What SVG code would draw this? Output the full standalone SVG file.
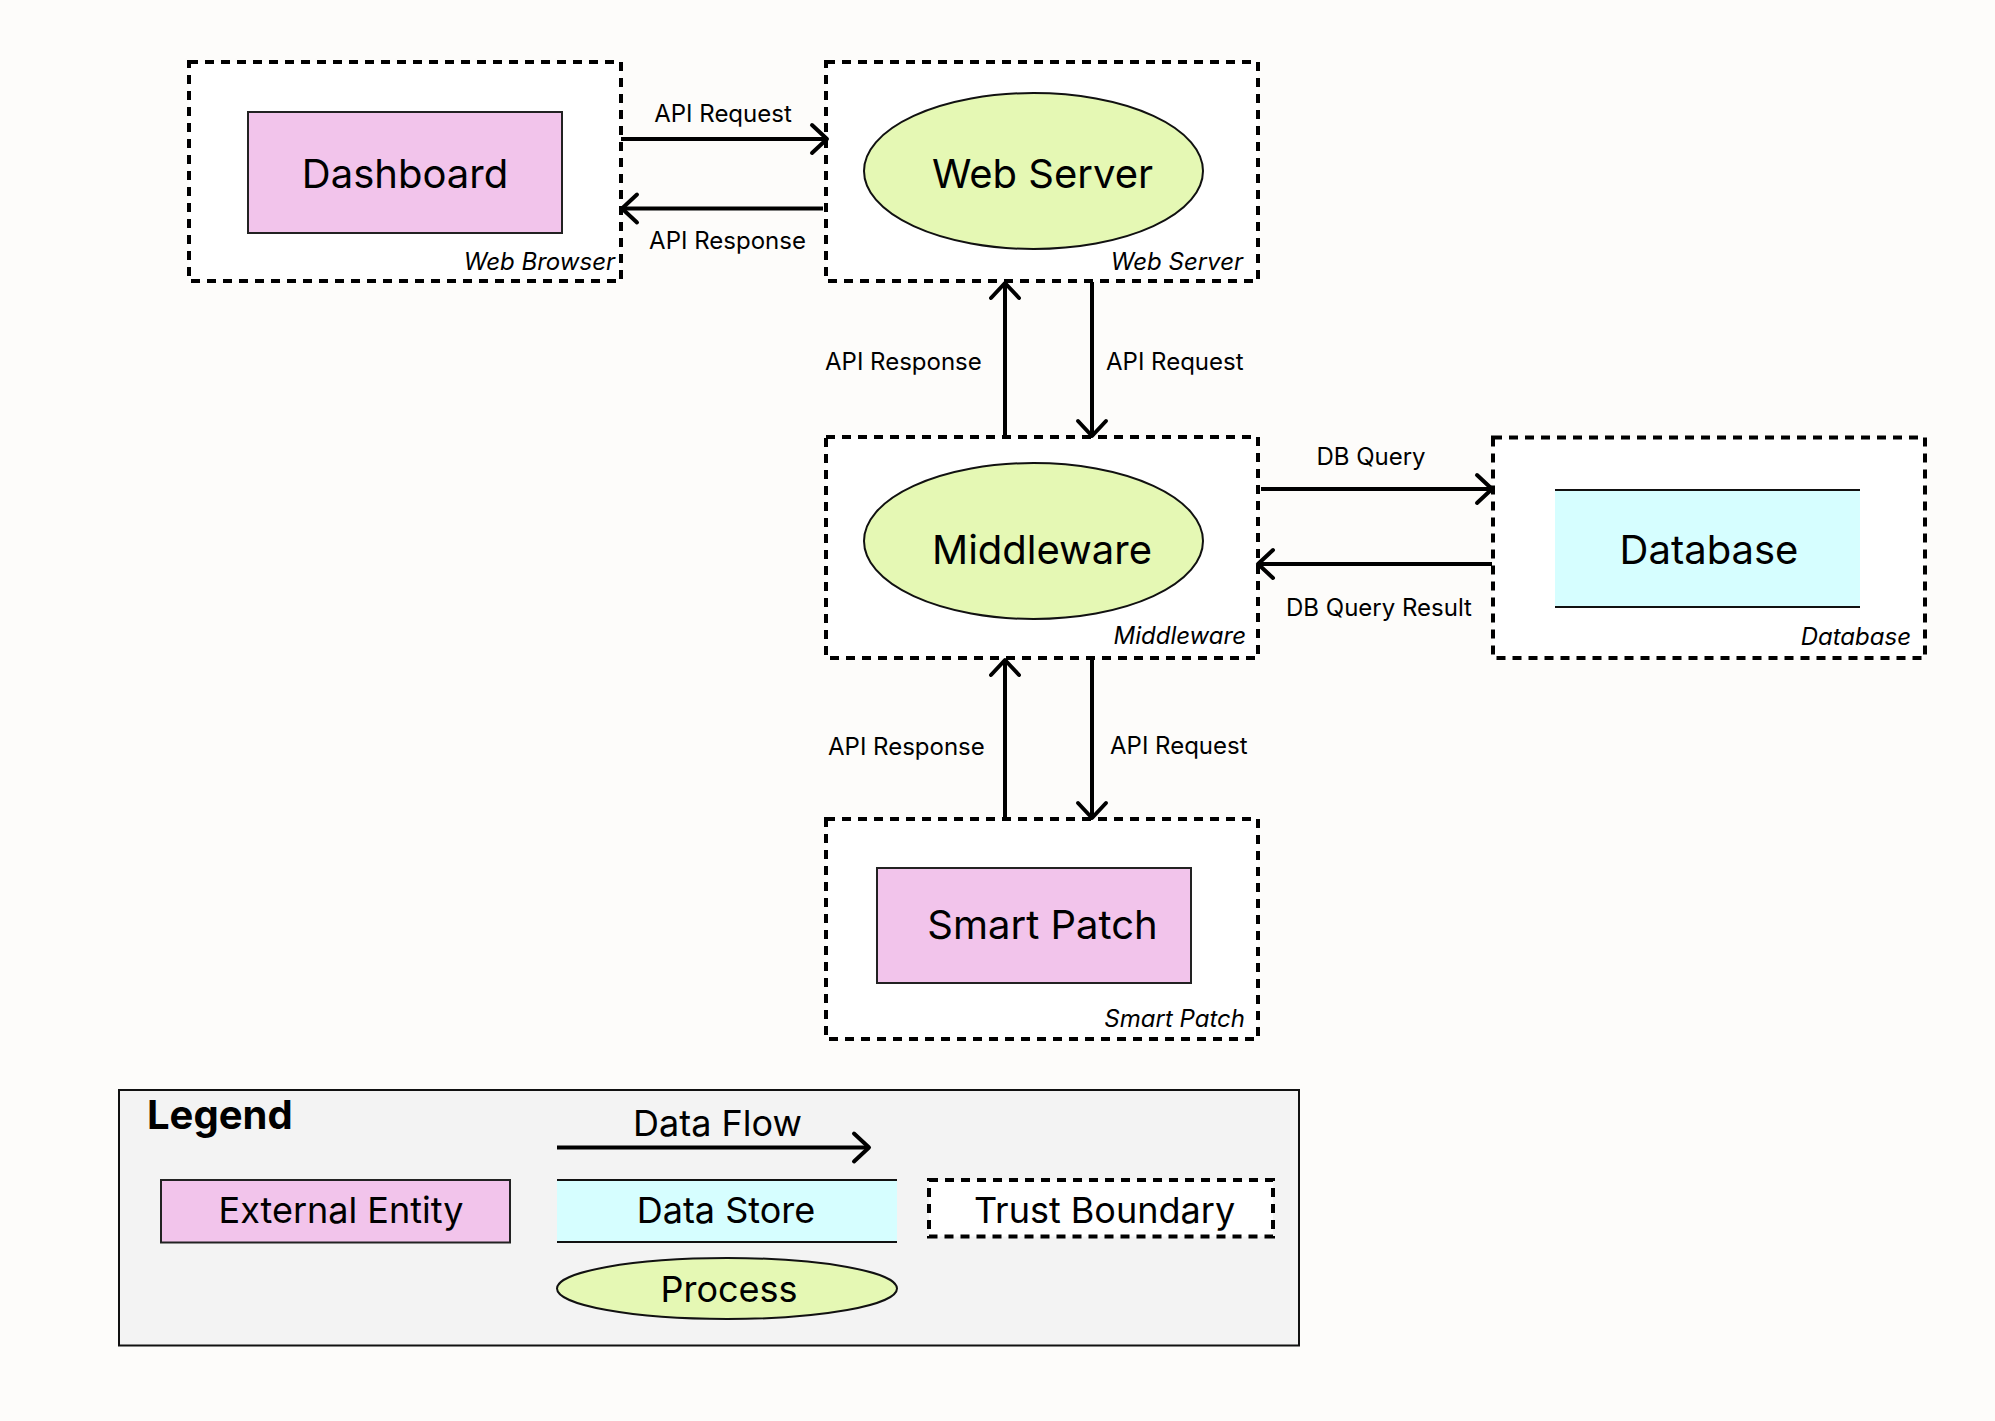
<svg xmlns="http://www.w3.org/2000/svg" width="1995" height="1421" viewBox="0 0 1995 1421">
  <defs>
    <style>
      text { font-family: Inter, "Liberation Sans", sans-serif; fill: #000; }
      .big { font-size: 40px; text-anchor: middle; }
      .leg { font-size: 36px; text-anchor: middle; }
      .lbl { font-size: 24px; }
      .mid { text-anchor: middle; }
      .bnd-lbl { font-size: 24px; font-style: italic; text-anchor: end; }
      .boundary { fill: #FFFFFF; stroke: #000; stroke-width: 4; stroke-dasharray: 9 7; }
      .entity { fill: #F2C4EB; stroke: #222; stroke-width: 2; }
      .process { fill: #E5F8B4; stroke: #111; stroke-width: 2; }
      .store { fill: #D6FEFF; stroke: none; }
      .storeline { stroke: #111; stroke-width: 2; fill: none; }
      .flow { fill: none; stroke: #000; stroke-width: 4; marker-end: url(#arr); }
    </style>
    <marker id="arr" viewBox="-20 -20 40 40" markerWidth="40" markerHeight="40" refX="0" refY="0" orient="auto" markerUnits="userSpaceOnUse">
      <path d="M-15,-14 L0,0 L-15,14" fill="none" stroke="#000" stroke-width="4" stroke-linecap="round" stroke-linejoin="round"/>
    </marker>
  </defs>
  <rect x="0" y="0" width="1995" height="1421" fill="#FDFCFA"/>

  <g id="web-browser">
    <rect class="boundary" x="189" y="62" width="432" height="219"/>
    <rect class="entity" x="248" y="112" width="314" height="121"/>
    <text class="big" x="405" y="188">Dashboard</text>
    <text class="bnd-lbl" x="615" y="270">Web Browser</text>
  </g>

  <g id="web-server">
    <rect class="boundary" x="826" y="62" width="432" height="219"/>
    <ellipse class="process" cx="1033.5" cy="171" rx="169.5" ry="78"/>
    <text class="big" x="1042.5" y="188">Web Server</text>
    <text class="bnd-lbl" x="1243" y="270">Web Server</text>
  </g>

  <g id="middleware">
    <rect class="boundary" x="826" y="437" width="432" height="221"/>
    <ellipse class="process" cx="1033.5" cy="541" rx="169.5" ry="78"/>
    <text class="big" x="1042" y="564">Middleware</text>
    <text class="bnd-lbl" x="1246" y="644">Middleware</text>
  </g>

  <g id="database">
    <rect class="boundary" x="1493" y="437.5" width="432" height="220.5"/>
    <rect class="store" x="1555" y="490" width="305" height="117"/>
    <line class="storeline" x1="1555" y1="490" x2="1860" y2="490"/>
    <line class="storeline" x1="1555" y1="607" x2="1860" y2="607"/>
    <text class="big" x="1709" y="564">Database</text>
    <text class="bnd-lbl" x="1911" y="645">Database</text>
  </g>

  <g id="smart-patch">
    <rect class="boundary" x="826" y="819" width="432" height="220"/>
    <rect class="entity" x="877" y="868" width="314" height="115"/>
    <text class="big" x="1042.5" y="939">Smart Patch</text>
    <text class="bnd-lbl" x="1245" y="1027">Smart Patch</text>
  </g>

  <g id="connectors">
    <line class="flow" x1="621" y1="139" x2="827" y2="139"/>
    <text class="lbl mid" x="723" y="122">API Request</text>
    <line class="flow" x1="823" y1="208.5" x2="622" y2="208.5"/>
    <text class="lbl mid" x="727.5" y="249">API Response</text>

    <line class="flow" x1="1005" y1="437" x2="1005" y2="283"/>
    <text class="lbl" x="825" y="370">API Response</text>
    <line class="flow" x1="1092" y1="282" x2="1092" y2="436"/>
    <text class="lbl" x="1106" y="370">API Request</text>

    <line class="flow" x1="1261" y1="489" x2="1492" y2="489"/>
    <text class="lbl mid" x="1371" y="465">DB Query</text>
    <line class="flow" x1="1492" y1="564" x2="1258" y2="564"/>
    <text class="lbl mid" x="1379" y="616">DB Query Result</text>

    <line class="flow" x1="1005" y1="819" x2="1005" y2="660"/>
    <text class="lbl" x="828" y="755">API Response</text>
    <line class="flow" x1="1092" y1="658" x2="1092" y2="818"/>
    <text class="lbl" x="1110" y="754">API Request</text>
  </g>

  <g id="legend">
    <rect x="119" y="1090" width="1180" height="255.5" fill="#F3F3F3" stroke="#111" stroke-width="2"/>
    <text x="147" y="1129" style="font-size:40px;font-weight:bold;">Legend</text>
    <text class="leg" x="717.5" y="1136">Data Flow</text>
    <line class="flow" x1="557" y1="1147.5" x2="869" y2="1147.5"/>
    <rect class="entity" x="161" y="1180" width="349" height="62.5"/>
    <text class="leg" x="341" y="1223">External Entity</text>
    <rect class="store" x="557" y="1180" width="340" height="62"/>
    <line class="storeline" x1="557" y1="1180" x2="897" y2="1180"/>
    <line class="storeline" x1="557" y1="1242" x2="897" y2="1242"/>
    <text class="leg" x="726" y="1223">Data Store</text>
    <rect class="boundary" x="929" y="1180" width="344" height="56.5"/>
    <text class="leg" x="1104.5" y="1223">Trust Boundary</text>
    <ellipse class="process" cx="727" cy="1288.5" rx="170" ry="30.5"/>
    <text class="leg" x="729" y="1302">Process</text>
  </g>
</svg>
